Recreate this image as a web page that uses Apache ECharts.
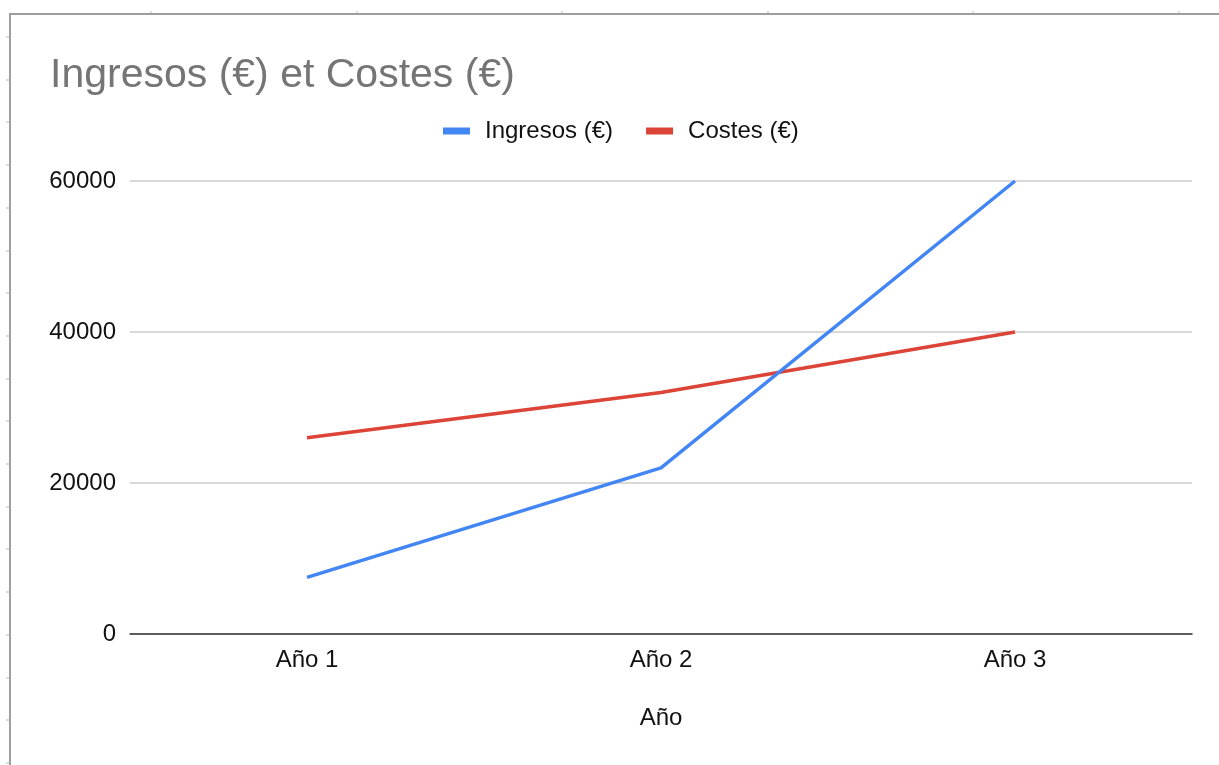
<!DOCTYPE html>
<html>
<head>
<meta charset="utf-8">
<script src="https://cdn.jsdelivr.net/npm/echarts@6/dist/echarts.min.js"></script>
<style>
  html, body { margin: 0; padding: 0; background: #fff; }
  #chart { width: 1219px; height: 765px; }
</style>
</head>
<body>
<div id="chart"></div>
<script>
// Chart data
const categories = ['Año 1', 'Año 2', 'Año 3'];
const ingresos = [7500, 22000, 60000];
const costes = [26000, 32000, 40000];
const seriesNames = ['Ingresos (€)', 'Costes (€)'];
const titleText = 'Ingresos (€) et Costes (€)';
const xAxisName = 'Año';

const FONT = '"Liberation Sans", Arial, sans-serif';

// Sheet frame: border lines with the faint cell-grid marks peeking out
const frame = [
  { type: 'rect', shape: { x: 9, y: 13, width: 1210, height: 2 }, style: { fill: '#9e9e9e' }, silent: true },
  { type: 'rect', shape: { x: 9, y: 13, width: 2, height: 752 }, style: { fill: '#9e9e9e' }, silent: true }
];
for (let x = 150; x < 1219; x += 205.5) {
  frame.push({ type: 'rect', shape: { x: Math.round(x), y: 11, width: 2, height: 2 }, style: { fill: '#dddddd' }, silent: true });
}
for (let y = 36; y < 765; y += 42.7) {
  frame.push({ type: 'rect', shape: { x: 6, y: Math.round(y), width: 3, height: 2 }, style: { fill: '#dddddd' }, silent: true });
}

const chart = echarts.init(document.getElementById('chart'), null, { renderer: 'canvas' });
chart.setOption({
  animation: false,
  backgroundColor: '#ffffff',
  color: ['#4285F4', '#DB4437'],
  graphic: frame,
  title: {
    text: titleText,
    left: 45,
    top: 50,
    textStyle: { color: '#757575', fontSize: 41, fontWeight: 'normal', fontFamily: FONT }
  },
  legend: {
    data: seriesNames,
    left: 438,
    top: 114,
    icon: 'rect',
    itemWidth: 27,
    itemHeight: 7,
    itemGap: 33,
    textStyle: { color: '#111', fontSize: 24, fontFamily: FONT, padding: [0, 0, 0, 10] }
  },
  grid: { left: 130, right: 27, top: 181, bottom: 131 },
  xAxis: {
    type: 'category',
    data: categories,
    boundaryGap: true,
    name: xAxisName,
    nameLocation: 'middle',
    nameGap: 72,
    nameTextStyle: { color: '#111', fontSize: 24, fontFamily: FONT },
    axisLine: { lineStyle: { color: '#333', width: 1.5 } },
    axisTick: { show: false },
    axisLabel: { color: '#111', fontSize: 24, fontFamily: FONT, margin: 14 }
  },
  yAxis: {
    type: 'value',
    min: 0,
    max: 60000,
    interval: 20000,
    axisLine: { show: false },
    axisTick: { show: false },
    axisLabel: { color: '#111', fontSize: 24, fontFamily: FONT, margin: 14, formatter: v => String(v) },
    splitLine: { lineStyle: { color: '#cccccc', width: 1.5 } }
  },
  series: [
    {
      name: seriesNames[0], type: 'line', data: ingresos,
      showSymbol: false, symbol: 'none',
      lineStyle: { width: 3.5, color: '#4285F4' }, z: 3
    },
    {
      name: seriesNames[1], type: 'line', data: costes,
      showSymbol: false, symbol: 'none',
      lineStyle: { width: 3.5, color: '#DB4437' }, z: 2
    }
  ]
});
</script>
</body>
</html>
